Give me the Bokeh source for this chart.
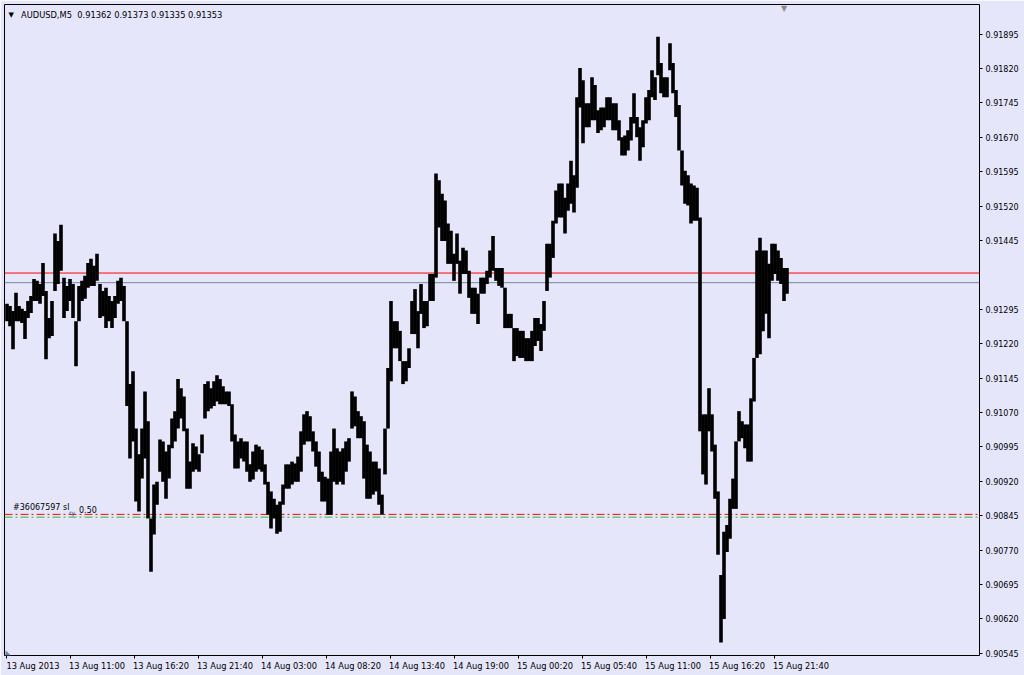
from bokeh.plotting import figure
from bokeh.models import (Range1d, FixedTicker, LinearAxis, Span, Label,
                          ColumnDataSource, PrintfTickFormatter)
from bokeh.embed import file_html
from bokeh.resources import INLINE

# ---------------- data ----------------
symbol = "AUDUSD,M5"
last_ohlc = [0.91362, 0.91373, 0.91335, 0.91353]
ask_price = 0.91374
bid_price = 0.91353
sl_red_price = 0.90848
sl_green_price = 0.90842
order_text = "#36067597 sl"
order_sub = "ry"
order_lots = "0.50"

# high / low of each 15-minute block (three M5 bars), in points (1e-5),
# starting 13 Aug 2013 05:40
hi_pts = [
    91307, 91302, 91291, 91331, 91302, 91296, 91291, 91313, 91324, 91361,
    91357, 91350, 91396, 91335, 91276, 91313, 91460, 91444, 91479, 91364,
    91346, 91361, 91350, 91269, 91346, 91357, 91368, 91396, 91405, 91390,
    91416, 91350, 91335, 91342, 91324, 91313, 91324, 91357, 91364, 91346,
    91269, 91132, 91160, 91035, 90979, 91035, 91116, 91051, 90839, 90913,
    90919, 91011, 91007, 90985, 91000, 91057, 91073, 91143, 91123, 91105,
    91035, 90963, 91003, 90996, 90979, 91022, 91132, 91138, 91123, 91138,
    91151, 91143, 91127, 91116, 91116, 91088, 91022, 91007, 91014, 91007,
    91007, 90957, 90985, 91000, 90996, 90989, 90957, 90919, 90898, 90882,
    90869, 90876, 90913, 90957, 90957, 90963, 90959, 90974, 91029, 91066,
    91073, 91062, 91029, 91007, 90985, 90941, 90930, 90926, 90985, 91035,
    90992, 90985, 90992, 91007, 91014, 91116, 91105, 91073, 91062, 91051,
    91000, 90985, 90963, 90963, 90948, 90891, 91035, 91167, 91313, 91269,
    91269, 91248, 91182, 91182, 91210, 91313, 91339, 91291, 91350, 91313,
    91313, 91372, 91372, 91591, 91576, 91547, 91532, 91482, 91466, 91416,
    91460, 91401, 91429, 91423, 91379, 91342, 91342, 91329, 91364, 91364,
    91379, 91423, 91455, 91385, 91385, 91385, 91342, 91285, 91285, 91254,
    91254, 91248, 91248, 91232, 91232, 91248, 91276, 91276, 91263, 91313,
    91438, 91438, 91488, 91554, 91569, 91569, 91538, 91569, 91619, 91587,
    91757, 91821, 91794, 91744, 91744, 91801, 91784, 91729, 91735, 91735,
    91757, 91757, 91744, 91744, 91707, 91670, 91674, 91685, 91714, 91766,
    91714, 91692, 91707, 91757, 91773, 91816, 91801, 91889, 91832, 91801,
    91801, 91875, 91832, 91773, 91740, 91641, 91597, 91587, 91569, 91565,
    91560, 91495, 91066, 91066, 91123, 91066, 91000, 90898, 90716, 90810,
    90825, 90882, 90926, 91007, 91073, 91051, 91044, 91044, 91101, 91189,
    91423, 91451, 91423, 91423, 91394, 91438, 91438, 91423, 91407, 91385, 91385,
]
lo_pts = [
    91269, 91258, 91208, 91269, 91269, 91265, 91230, 91276, 91287, 91313,
    91313, 91307, 91324, 91186, 91232, 91237, 91335, 91350, 91379, 91276,
    91291, 91313, 91276, 91171, 91269, 91313, 91318, 91342, 91346, 91346,
    91357, 91276, 91280, 91254, 91269, 91254, 91276, 91307, 91313, 91269,
    91084, 90970, 91007, 90876, 90854, 90926, 90970, 90839, 90723, 90804,
    90869, 90941, 90919, 90882, 90926, 90992, 91007, 91035, 91057, 91029,
    90904, 90904, 90941, 90946, 90941, 90981, 91057, 91073, 91079, 91084,
    91094, 91088, 91088, 91088, 91084, 91007, 90948, 90948, 90970, 90963,
    90941, 90919, 90924, 90941, 90946, 90941, 90913, 90847, 90817, 90839,
    90806, 90810, 90869, 90904, 90904, 90913, 90919, 90919, 90941, 91000,
    91007, 91007, 90985, 90952, 90919, 90876, 90876, 90847, 90847, 90919,
    90913, 90919, 90913, 90941, 90963, 91035, 91040, 91014, 91014, 90926,
    90882, 90882, 90891, 90898, 90869, 90847, 90935, 91035, 91138, 91210,
    91210, 91182, 91132, 91138, 91167, 91241, 91241, 91210, 91285, 91254,
    91258, 91313, 91313, 91364, 91473, 91444, 91444, 91394, 91394, 91357,
    91394, 91329, 91372, 91372, 91320, 91285, 91285, 91263, 91329, 91329,
    91350, 91364, 91379, 91357, 91346, 91342, 91254, 91254, 91254, 91182,
    91193, 91189, 91189, 91182, 91182, 91182, 91215, 91226, 91204, 91248,
    91335, 91364, 91407, 91482, 91495, 91495, 91460, 91510, 91525, 91506,
    91560, 91735, 91657, 91692, 91692, 91707, 91707, 91679, 91685, 91692,
    91707, 91707, 91685, 91685, 91663, 91630, 91630, 91641, 91663, 91700,
    91670, 91619, 91648, 91700, 91707, 91757, 91751, 91805, 91766, 91757,
    91757, 91816, 91766, 91714, 91641, 91565, 91525, 91521, 91482, 91488,
    91488, 91029, 90935, 90913, 91029, 90985, 90882, 90760, 90569, 90620,
    90766, 90795, 90860, 90860, 91007, 91014, 90992, 90963, 90963, 91094,
    91189, 91197, 91247, 91285, 91232, 91357, 91372, 91357, 91350, 91313, 91329,
]

x_tick_bars = [0, 64, 128, 192, 256, 320, 384, 448, 512, 576, 640, 704, 768]
x_tick_labels = ["13 Aug 2013", "13 Aug 11:00", "13 Aug 16:20", "13 Aug 21:40",
                 "14 Aug 03:00", "14 Aug 08:20", "14 Aug 13:40", "14 Aug 19:00",
                 "15 Aug 00:20", "15 Aug 05:40", "15 Aug 11:00", "15 Aug 16:20",
                 "15 Aug 21:40"]
y_ticks = [0.90545, 0.90620, 0.90695, 0.90770, 0.90845, 0.90920, 0.90995,
           0.91070, 0.91145, 0.91220, 0.91295, 0.91445, 0.91520, 0.91595,
           0.91670, 0.91745, 0.91820, 0.91895]

# ---------------- styling ----------------
BG = "#E6E6FA"
FONT = "DejaVu Sans"
FS = "8px"
FSX = "8.3px"
BARS_PER_BLOCK = 3
Y_TOP = 0.919593
Y_BOT = 0.905404

left = [BARS_PER_BLOCK * i - 0.8 for i in range(len(hi_pts))]
right = [BARS_PER_BLOCK * i + BARS_PER_BLOCK - 0.2 for i in range(len(hi_pts))]
src = ColumnDataSource(dict(left=left, right=right,
                            top=[v / 1e5 for v in hi_pts],
                            bottom=[v / 1e5 for v in lo_pts]))

p = figure(width=1024, height=675, output_backend="svg", toolbar_location=None,
           x_range=Range1d(-1.5, 973.5), y_range=Range1d(Y_BOT, Y_TOP),
           x_axis_location=None, y_axis_location=None,
           min_border_left=4, min_border_top=4, min_border_right=45,
           min_border_bottom=20,
           background_fill_color=BG, border_fill_color=BG,
           outline_line_color="black", outline_line_width=1)
p.grid.visible = False

# price lines (under the bars)
p.add_layout(Span(location=ask_price, dimension="width", line_color="#FF0000",
                  line_width=1, level="underlay"))
p.add_layout(Span(location=bid_price, dimension="width", line_color="#778899",
                  line_width=1, level="underlay"))
p.add_layout(Span(location=sl_red_price, dimension="width", line_color="#FF0000",
                  line_width=1, line_dash="8 3 2 3", level="underlay"))
p.add_layout(Span(location=sl_green_price, dimension="width", line_color="#22C022",
                  line_width=1, line_dash="8 3 2 3", level="underlay"))

p.quad(left="left", right="right", top="top", bottom="bottom", source=src,
       fill_color="black", line_color=None)

# right price axis
yax = LinearAxis(ticker=FixedTicker(ticks=y_ticks),
                 formatter=PrintfTickFormatter(format="%.5f"),
                 major_tick_out=3, major_tick_in=0, minor_tick_out=0, minor_tick_in=0,
                 major_label_standoff=3, axis_line_color=None,
                 major_tick_line_color="black",
                 major_label_text_font=FONT, major_label_text_font_size=FS,
                 major_label_text_color="black")
p.add_layout(yax, "right")

# bottom time axis: tick marks, then left-aligned labels
xt = LinearAxis(ticker=FixedTicker(ticks=x_tick_bars),
                major_label_overrides={t: "" for t in x_tick_bars},
                major_tick_out=3, major_tick_in=0, minor_tick_out=0, minor_tick_in=0,
                major_label_standoff=0, axis_line_color=None,
                major_tick_line_color="black", major_label_text_font_size="1px")
p.add_layout(xt, "below")
label_pos = [t + 27 for t in x_tick_bars]
xl = LinearAxis(ticker=FixedTicker(ticks=label_pos),
                major_label_overrides={lp: s for lp, s in zip(label_pos, x_tick_labels)},
                major_tick_out=0, major_tick_in=0, minor_tick_out=0, minor_tick_in=0,
                major_tick_line_color=None, major_label_standoff=2,
                axis_line_color=None,
                major_label_text_font=FONT, major_label_text_font_size=FSX,
                major_label_text_color="black")
p.add_layout(xl, "below")

# header
o, h, l, c = last_ohlc
p.add_layout(Label(x=2.5, y=Y_TOP, y_offset=-6, text="\u25BC", text_font=FONT,
                   text_font_size="7px", text_baseline="top", text_color="black"))
p.add_layout(Label(x=15, y=Y_TOP, y_offset=-5,
                   text=f"{symbol}\u00a0\u00a0{o:.5f} {h:.5f} {l:.5f} {c:.5f}",
                   text_font=FONT, text_font_size=FSX, text_baseline="top",
                   text_color="black"))
# chart shift marker
p.add_layout(Label(x=778, y=Y_TOP, y_offset=1, text="\u25BC", text_font=FONT,
                   text_font_size="8px", text_baseline="top", text_align="center",
                   text_color="#8A8A8A"))
# bottom-left corner marker
p.add_layout(Label(x=-0.5, y=Y_BOT, y_offset=-1, text="\u25E3", text_font=FONT,
                   text_font_size="7px", text_baseline="bottom", text_color="#6E7E90"))

# order label
p.add_layout(Label(x=7, y=sl_red_price, y_offset=2, text=order_text, text_font=FONT,
                   text_font_size=FS, text_baseline="bottom", text_color="black"))
p.add_layout(Label(x=63, y=sl_red_price, y_offset=-2, text=order_sub, text_font=FONT,
                   text_font_size="6px", text_baseline="bottom", text_color="#3050A0"))
p.add_layout(Label(x=73, y=sl_red_price, y_offset=1, text=order_lots, text_font=FONT,
                   text_font_size=FS, text_baseline="bottom", text_color="black"))

# ask / bid tags on the price scale
p.add_layout(Label(x=975.5, y=ask_price, text=f"{ask_price:.5f}", text_font=FONT,
                   text_font_size="9px", text_baseline="middle", text_color="white",
                   background_fill_color="#FF0000", padding=2))
p.add_layout(Label(x=975.5, y=bid_price, text=f"{bid_price:.5f}", text_font=FONT,
                   text_font_size="9px", text_baseline="middle", text_color="white",
                   background_fill_color="black", padding=2))

open("out.html", "w").write(file_html(p, INLINE))
